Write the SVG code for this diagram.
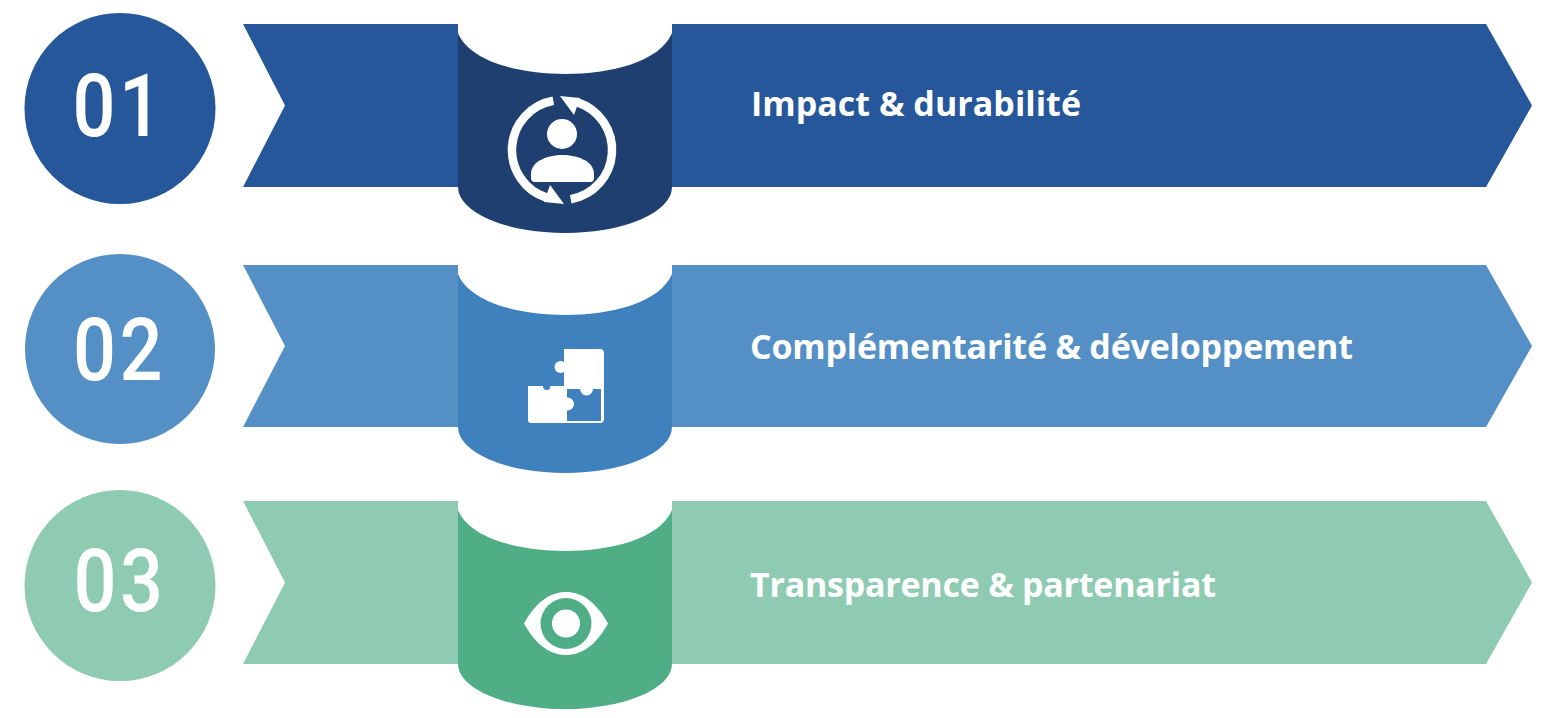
<svg xmlns="http://www.w3.org/2000/svg" width="1552" height="718" viewBox="0 0 1552 718">
<style>
.num{font-family:Roboto,"DejaVu Sans",sans-serif;font-weight:500;font-size:88px;fill:#fff;text-anchor:middle}
.lbl{font-family:"Open Sans","DejaVu Sans",sans-serif;font-weight:700;font-size:34px;fill:#fff}
.w{fill:#fff}
.ring{fill:none;stroke:#fff;stroke-width:8.5}
</style>
<rect width="1552" height="718" fill="#fff"/>
<g id="row1">
  <circle cx="120" cy="108.5" r="95.5" fill="#25579a"/>
  <text class="num" transform="translate(119,136) scale(0.86,1)" letter-spacing="4">01</text>
  <polygon points="243,24 1486,24 1532,105.5 1486,187 243,187 285,105.5" fill="#25579a"/>
  <path d="M458,24 L672,24 L672,187 A107,46 0 0 1 458,187 Z" fill="#1e3f70"/>
  <path class="w" d="M458,22 L458,33 C470,62 520,74 565,74 C610,74 660,62 672,33 L672,22 Z"/>
  <g id="icon1">
    <path class="ring" d="M577.5,102.4 A50,50 0 0 1 570.7,199.2"/>
    <path class="ring" d="M546.5,197.6 A50,50 0 0 1 553.3,100.8"/>
    <polygon class="w" points="560,96 580,98 574,115"/>
    <polygon class="w" points="564,204 544,202 550,185"/>
    <circle class="w" cx="562" cy="134" r="15"/>
    <path class="w" d="M531,174 C531,161 548,155 562.5,155 C577,155 594,161 594,174 L594,178 Q594,182 590,182 L535,182 Q531,182 531,178 Z"/>
  </g>
  <text class="lbl" x="751" y="116" textLength="330" lengthAdjust="spacing">Impact &amp; durabilité</text>
</g>
<g id="row2">
  <circle cx="120" cy="349" r="95" fill="#5490c6"/>
  <text class="num" transform="translate(119.5,380) scale(0.86,1)" letter-spacing="4">02</text>
  <polygon points="243,265 1486,265 1532,346 1486,427 243,427 285,346" fill="#5490c6"/>
  <path d="M458,265 L672,265 L672,427 A107,46 0 0 1 458,427 Z" fill="#3f81bd"/>
  <path class="w" d="M458,263 L458,274 C470,303 520,315 565,315 C610,315 660,303 672,274 L672,263 Z"/>
  <g id="icon2">
    <path class="w" d="M564,349 L600,349 Q604,349 604,353 L604,389 L564,389 Z"/>
    <path class="w" d="M528,386 L567,386 L567,423 L531,423 Q528,423 528,420 Z"/>
    <path class="w" d="M567,389 L604,389 L604,419 Q604,423 600,423 L567,423 Z"/>
    <rect x="567" y="389" width="34" height="32" fill="#3f81bd"/>
    <circle class="w" cx="560.5" cy="367" r="6"/>
    <circle class="w" cx="586.5" cy="389" r="6.5"/>
    <circle class="w" cx="567.5" cy="404" r="6.5"/>
    <circle cx="546.7" cy="386.5" r="3.6" fill="#3f81bd"/>
  </g>
  <text class="lbl" x="750" y="359" textLength="603" lengthAdjust="spacing">Complémentarité &amp; développement</text>
</g>
<g id="row3">
  <circle cx="120" cy="585.5" r="95.5" fill="#8ecbb2"/>
  <text class="num" transform="translate(120,611) scale(0.86,1)" letter-spacing="4">03</text>
  <polygon points="243,501 1486,501 1532,582.5 1486,664 243,664 285,582.5" fill="#8ecbb2"/>
  <path d="M458,501 L672,501 L672,664 A107,45 0 0 1 458,664 Z" fill="#50ae87"/>
  <path class="w" d="M458,499 L458,510 C470,539 520,551 565,551 C610,551 660,539 672,510 L672,499 Z"/>
  <g id="icon3">
    <path class="w" d="M524,623.5 C536,602 550,592 566,592 C582,592 596,602 608,623.5 C596,645 582,655 566,655 C550,655 536,645 524,623.5 Z"/>
    <circle cx="566" cy="623.5" r="25.5" fill="#50ae87"/>
    <circle class="w" cx="566" cy="623.5" r="14"/>
  </g>
  <text class="lbl" x="750" y="597" textLength="466" lengthAdjust="spacing">Transparence &amp; partenariat</text>
</g>
<g id="connectors"></g>
</svg>
